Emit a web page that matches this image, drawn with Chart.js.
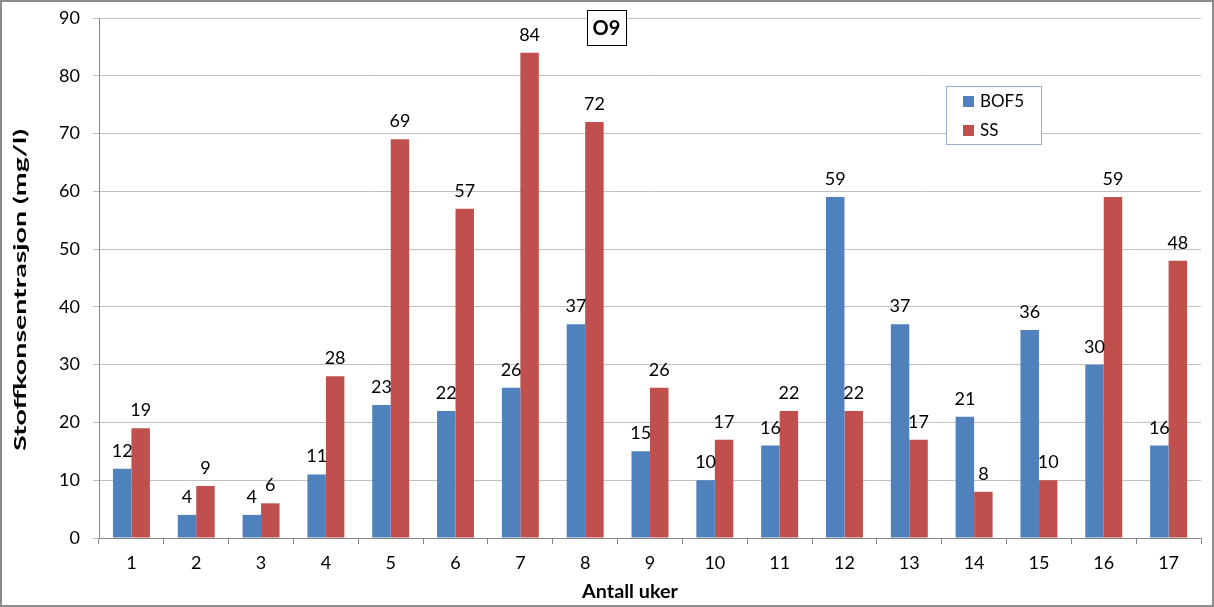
<!DOCTYPE html>
<html><head><meta charset="utf-8">
<script src="https://cdn.jsdelivr.net/npm/chart.js@4"></script>
<style>html,body{margin:0;padding:0;background:#fff}#wrap{width:1214px;height:607px;position:relative}</style>
</head><body><div id="wrap"><canvas id="c" width="1214" height="607"></canvas></div>
<script>
const categories = ['1','2','3','4','5','6','7','8','9','10','11','12','13','14','15','16','17'];
const bof5 = [12,4,4,11,23,22,26,37,15,10,16,59,37,21,36,30,16];
const ss = [19,9,6,28,69,57,84,72,26,17,22,22,17,8,10,59,48];
const seriesNames = ['BOF5','SS'];
const chartTitle = 'O9';
const yTitle = 'Stoffkonsentrasjon (mg/l)';
const xTitle = 'Antall uker';
const FONT = 'Lato, "Open Sans", sans-serif';

function fitFont(ctx, text, weight, target){
  ctx.font = weight + ' 20px ' + FONT;
  const w = ctx.measureText(text).width;
  return weight + ' ' + (20*target/w).toFixed(2) + 'px ' + FONT;
}

const decor = {
  id:'decor',
  afterDatasetsDraw(chart){
    const ctx = chart.ctx;
    ctx.save();
    ctx.font = '18px ' + FONT;
    ctx.fillStyle = '#000';
    ctx.textAlign = 'center';
    ctx.textBaseline = 'alphabetic';
    chart.data.datasets.forEach((ds,i)=>{
      const meta = chart.getDatasetMeta(i);
      meta.data.forEach((bar,j)=>{
        ctx.fillText(String(ds.data[j]), bar.x, bar.y - 12);
      });
    });
    ctx.restore();
  },
  afterDraw(chart){
    const ctx = chart.ctx;
    ctx.save();
    // title box
    ctx.font = 'bold 20px ' + FONT;
    ctx.fillStyle = '#fff';
    ctx.fillRect(587, 10, 39, 35);
    ctx.strokeStyle = '#000'; ctx.lineWidth = 1;
    ctx.strokeRect(587.5, 10.5, 39, 35);
    ctx.fillStyle = '#000'; ctx.textAlign='center'; ctx.textBaseline='middle';
    ctx.fillText(chartTitle, 606.5, 28.5);
    // legend
    const lx = 946, ly = 86, lw = 95, lh = 58;
    ctx.fillStyle = '#fff';
    ctx.fillRect(lx, ly, lw, lh);
    ctx.strokeStyle='#9aaecf';
    ctx.strokeRect(lx+0.5, ly+0.5, lw, lh);
    ctx.font = '17px ' + FONT;
    ctx.textAlign='left'; ctx.textBaseline='middle';
    const colors = ['#4F81BD','#C0504D'];
    seriesNames.forEach((n,i)=>{
      const yy = ly + 15 + i*29;
      ctx.fillStyle = colors[i];
      ctx.fillRect(lx+17, yy-5, 11, 11);
      ctx.fillStyle = '#000';
      ctx.fillText(n, lx+34, yy+1);
    });
    // axis titles
    ctx.fillStyle = '#000';
    ctx.textAlign='center'; ctx.textBaseline='middle';
    ctx.font = fitFont(ctx, xTitle, 'bold', 96);
    ctx.fillText(xTitle, 630, 592);
    ctx.save();
    ctx.translate(21, 290);
    ctx.rotate(-Math.PI/2);
    ctx.font = 'bold 17px ' + FONT;
    const yw = ctx.measureText(yTitle).width;
    ctx.scale(322/yw, 1);
    ctx.fillText(yTitle, 0, 0);
    ctx.restore();
    // outer border
    ctx.strokeStyle = '#8c8c8c'; ctx.lineWidth = 2;
    ctx.strokeRect(1, 1, chart.width-2, chart.height-2);
    ctx.restore();
  }
};

new Chart(document.getElementById('c'), {
  type:'bar',
  data:{
    labels: categories,
    datasets:[
      {label:seriesNames[0], data:bof5, backgroundColor:'#4F81BD', categoryPercentage:0.57, barPercentage:1},
      {label:seriesNames[1], data:ss, backgroundColor:'#C0504D', categoryPercentage:0.57, barPercentage:1}
    ]
  },
  options:{
    responsive:false, animation:false,
    layout:{padding:{left:0,right:13,top:18,bottom:0}},
    plugins:{legend:{display:false}, title:{display:false}, tooltip:{enabled:false}},
    scales:{
      x:{
        offset:true,
        grid:{offset:true, drawOnChartArea:false, drawTicks:true, tickLength:6, color:'#868686'},
        border:{color:'#868686', width:1},
        ticks:{color:'#000', font:{family:FONT, size:18}, padding:8, maxRotation:0, autoSkip:false},
        afterFit(s){ s.height = 69; s.paddingLeft = 0; s.paddingRight = 0; }
      },
      y:{
        min:0, max:90,
        ticks:{stepSize:10, color:'#000', font:{family:FONT, size:18}, padding:13},
        grid:{color:'#c0c0c0', tickLength:6, drawTicks:true},
        border:{color:'#868686', width:1},
        afterFit(s){ s.width = 99; s.paddingTop = 0; s.paddingBottom = 0; }
      }
    }
  },
  plugins:[decor]
});
</script></body></html>
